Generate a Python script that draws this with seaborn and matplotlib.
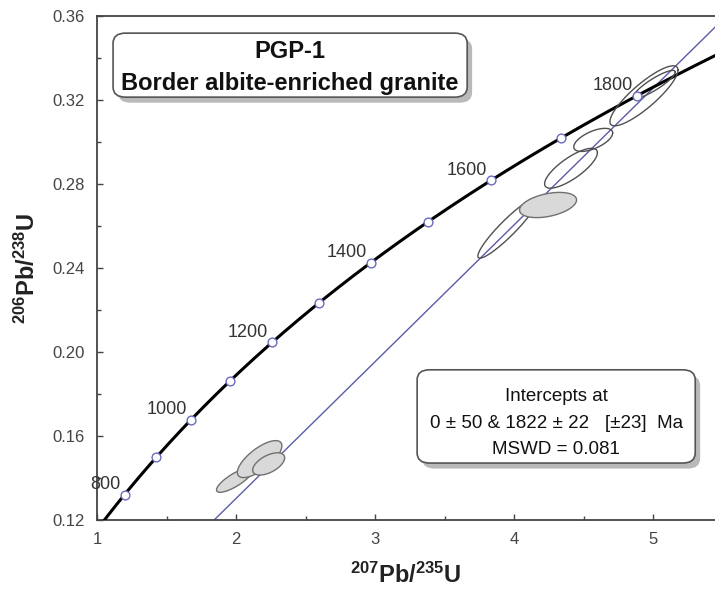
import numpy as np
import pandas as pd
import matplotlib.pyplot as plt
import seaborn as sns
from matplotlib.patches import FancyBboxPatch
from matplotlib.ticker import MultipleLocator

# decay constants (1/yr)
lam238 = 1.55125e-10
lam235 = 9.8485e-10

# concordia age markers (Ma) and the ones that get a label
marker_ages = [800, 900, 1000, 1100, 1200, 1300, 1400, 1500, 1600, 1700, 1800]
label_ages = [800, 1000, 1200, 1400, 1600, 1800]

# discordia intercepts (Ma)
lower_int = 0
upper_int = 1822

# error ellipses: centre x, centre y, half x, half y, correlation
ell_x = [1.99, 2.17, 2.235, 3.955, 4.245, 4.41, 4.57, 4.935, 5.01]
ell_y = [0.139, 0.149, 0.1467, 0.259, 0.270, 0.2875, 0.301, 0.322, 0.3275]
ell_sx = [0.13, 0.16, 0.115, 0.215, 0.205, 0.19, 0.14, 0.245, 0.15]
ell_sy = [0.0058, 0.0088, 0.0053, 0.0143, 0.006, 0.0095, 0.0055, 0.0143, 0.0066]
ell_rho = [0.8, 0.72, 0.55, 0.93, 0.4, 0.78, 0.6, 0.86, 0.88]
ell_filled = [True, True, True, False, True, False, False, False, False]


def r206(t):
    return np.exp(lam238 * np.asarray(t) * 1e6) - 1


def r207(t):
    return np.exp(lam235 * np.asarray(t) * 1e6) - 1


sns.set_theme(style="white")
plt.rcParams["font.family"] = ["Liberation Sans", "DejaVu Sans"]
plt.rcParams["mathtext.fontset"] = "custom"
plt.rcParams["mathtext.bf"] = "Liberation Sans:bold"
plt.rcParams["mathtext.rm"] = "Liberation Sans"

fig = plt.figure(figsize=(7.15, 5.94), dpi=100)
ax = fig.add_axes([97 / 715, 74 / 594, 618 / 715, 504 / 594])

# concordia curve
curve_ages = np.linspace(600, 2000, 400)
conc = pd.DataFrame({"x": r207(curve_ages), "y": r206(curve_ages)})
sns.lineplot(data=conc, x="x", y="y", ax=ax, color="black", lw=2.2,
             sort=False, zorder=3)

# discordia line through both intercepts
slope = (r206(upper_int) - r206(lower_int)) / (r207(upper_int) - r207(lower_int))
disc_x = np.array([r207(lower_int), 6.0])
disc = pd.DataFrame({"x": disc_x, "y": r206(lower_int) + slope * (disc_x - r207(lower_int))})
sns.lineplot(data=disc, x="x", y="y", ax=ax, color="#5b5ba8", lw=1.0, zorder=2)

# error ellipses
tt = np.linspace(0, 2 * np.pi, 200)
for cx, cy, sx, sy, rho, filled in zip(ell_x, ell_y, ell_sx, ell_sy, ell_rho, ell_filled):
    ex = cx + sx * np.cos(tt)
    ey = cy + sy * (rho * np.cos(tt) + np.sqrt(1 - rho ** 2) * np.sin(tt))
    if filled:
        ax.fill(ex, ey, facecolor="#d9d9d9", edgecolor="#707070", lw=1.0, zorder=4)
    else:
        ax.plot(ex, ey, color="#505050", lw=1.0, zorder=4)

# age markers on concordia
marks = pd.DataFrame({"x": r207(marker_ages), "y": r206(marker_ages)})
sns.scatterplot(data=marks, x="x", y="y", ax=ax, s=40, color="white",
                edgecolor="#6a6ac0", linewidth=1.0, zorder=5)
for a in label_ages:
    ax.annotate(str(a), (r207(a), r206(a)), xytext=(-3, 1), textcoords="offset points",
                ha="right", va="bottom", fontsize=13, color="#333333", zorder=6)

ax.set_xlim(1, 1 + 618 / 139)
ax.set_ylim(0.12, 0.36)
ax.xaxis.set_major_locator(MultipleLocator(1))
ax.xaxis.set_minor_locator(MultipleLocator(0.5))
ax.yaxis.set_major_locator(MultipleLocator(0.04))
ax.yaxis.set_minor_locator(MultipleLocator(0.02))
ax.yaxis.set_major_formatter(plt.FuncFormatter(lambda v, p: f"{v:.2f}"))
ax.tick_params(which="both", direction="in", colors="#444444", labelsize=12,
               top=False, right=False, bottom=True, left=True)
ax.tick_params(which="major", length=4, width=1, pad=9)
ax.tick_params(which="minor", length=3, width=1)
for side in ["left", "bottom", "top"]:
    ax.spines[side].set_color("#444444")
    ax.spines[side].set_linewidth(1.3)
ax.spines["right"].set_visible(False)

ax.set_xlabel(r"$\mathbf{^{207}Pb/^{235}U}$", fontsize=17, color="#222222", labelpad=11)
ax.set_ylabel(r"$\mathbf{^{206}Pb/^{238}U}$", fontsize=17, color="#222222", labelpad=9)


def shadow_box(x0, y0, w, h, lines, weight, size, ys):
    sh = FancyBboxPatch((x0 + 0.008, y0 - 0.011), w, h, boxstyle="round,pad=0,rounding_size=0.02",
                        transform=ax.transAxes, facecolor="#a8a8a8", edgecolor="none",
                        alpha=0.8, zorder=7)
    bx = FancyBboxPatch((x0, y0), w, h, boxstyle="round,pad=0,rounding_size=0.02",
                        transform=ax.transAxes, facecolor="white", edgecolor="#555555",
                        lw=1.2, zorder=8)
    ax.add_patch(sh)
    ax.add_patch(bx)
    for txt, yy in zip(lines, ys):
        ax.text(x0 + w / 2, yy, txt, transform=ax.transAxes, ha="center", va="center",
                fontsize=size, fontweight=weight, color="#111111", zorder=9)


shadow_box(0.026, 0.839, 0.573, 0.127, ["PGP-1", "Border albite-enriched granite"],
           "bold", 17, [0.929, 0.867])
shadow_box(0.518, 0.113, 0.450, 0.185,
           ["Intercepts at", "0 ± 50 & 1822 ± 22   [±23]  Ma", "MSWD = 0.081"],
           "normal", 13.5, [0.246, 0.192, 0.139])

fig.savefig("out.png", dpi=100)
